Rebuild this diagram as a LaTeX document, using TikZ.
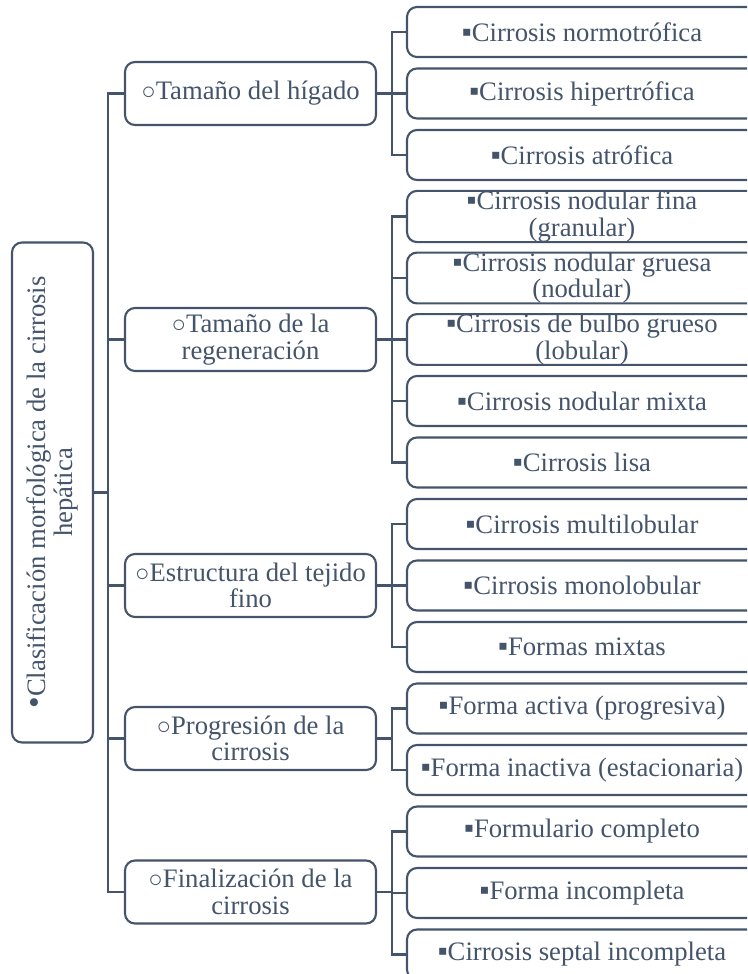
\documentclass[tikz,border=0pt]{standalone}
\usepackage{fontspec}
\setmainfont{Liberation Serif}
\usetikzlibrary{calc}
\definecolor{ink}{RGB}{68,84,106}
\newcommand\bulone{{\fontsize{25}{20}\selectfont •}}
\newcommand\bultwo{{\fontsize{18}{20}\selectfont ○}}
\newcommand\bulthree{{\fontsize{21}{20}\selectfont ▪}}
\begin{document}
\begin{tikzpicture}[x=0.75pt,y=-0.75pt,
  box/.style={draw=ink, line width=1.6pt, rounded corners=7.5pt, fill=white, text=ink,
    inner sep=0pt, align=center, font=\fontsize{20}{20}\selectfont},
  rootbox/.style={box, rotate=90, minimum width=375pt, minimum height=60.75pt},
  pbox/.style={box, minimum width=188.25pt, minimum height=47.25pt},
  kbox/.style={box, minimum width=262.5pt, minimum height=37.5pt},
  link/.style={draw=ink, line width=1.6pt}]
\useasboundingbox (0,0) rectangle (747,974);
\clip (0,0) rectangle (747,974);

% root
\node[rootbox] (root) at (52.5,492.5) {\bulone Clasificación morfológica de la cirrosis\\hepática};

% level 2
\node[pbox] (p1) at (250.5,93.5) {\bultwo Tamaño del hígado};
\node[pbox] (p2) at (250.5,339.5) {\bultwo Tamaño de la\\regeneración};
\node[pbox] (p3) at (250.5,585.5) {\bultwo Estructura del tejido\\fino};
\node[pbox] (p4) at (250.5,738.5) {\bultwo Progresión de la\\cirrosis};
\node[pbox] (p5) at (250.5,892) {\bultwo Finalización de la\\cirrosis};

% level 3
\node[kbox] (c0) at (582,32) {\bulthree Cirrosis normotrófica};
\node[kbox] (c1) at (582,93.5) {\bulthree Cirrosis hipertrófica};
\node[kbox] (c2) at (582,155) {\bulthree Cirrosis atrófica};
\node[kbox] (c3) at (582,216.5) {\bulthree Cirrosis nodular fina\\(granular)};
\node[kbox] (c4) at (582,278) {\bulthree Cirrosis nodular gruesa\\(nodular)};
\node[kbox] (c5) at (582,339.5) {\bulthree Cirrosis de bulbo grueso\\(lobular)};
\node[kbox] (c6) at (582,401) {\bulthree Cirrosis nodular mixta};
\node[kbox] (c7) at (582,462.5) {\bulthree Cirrosis lisa};
\node[kbox] (c8) at (582,524) {\bulthree Cirrosis multilobular};
\node[kbox] (c9) at (582,585.5) {\bulthree Cirrosis monolobular};
\node[kbox] (c10) at (582,647) {\bulthree Formas mixtas};
\node[kbox] (c11) at (582,708.5) {\bulthree Forma activa (progresiva)};
\node[kbox] (c12) at (582,770) {\bulthree Forma inactiva (estacionaria)};
\node[kbox] (c13) at (582,831.5) {\bulthree Formulario completo};
\node[kbox] (c14) at (582,893) {\bulthree Forma incompleta};
\node[kbox] (c15) at (582,954.5) {\bulthree Cirrosis septal incompleta};

% trunk
\coordinate (tr) at (108,0);
\draw[link] (root.south) -- (root.south -| tr);
\draw[link] (p1.west) -- (p1.west -| tr) -- (p5.west -| tr) -- (p5.west);
\foreach \p in {p2,p3,p4} \draw[link] (\p.west) -- (\p.west -| tr);

% branches
\coordinate (bx) at (392,0);
\foreach \p/\a/\b/\mids in {p1/c0/c2/{c1}, p2/c3/c7/{c4,c5,c6}, p3/c8/c10/{c9}, p4/c11/c12/{}, p5/c13/c15/{c14}} {
  \draw[link] (\p.east) -- (\p.east -| bx);
  \draw[link] (\a.west) -- (\a.west -| bx) -- (\b.west -| bx) -- (\b.west);
  \foreach \m in \mids \draw[link] (\m.west) -- (\m.west -| bx);
}
\end{tikzpicture}
\end{document}
